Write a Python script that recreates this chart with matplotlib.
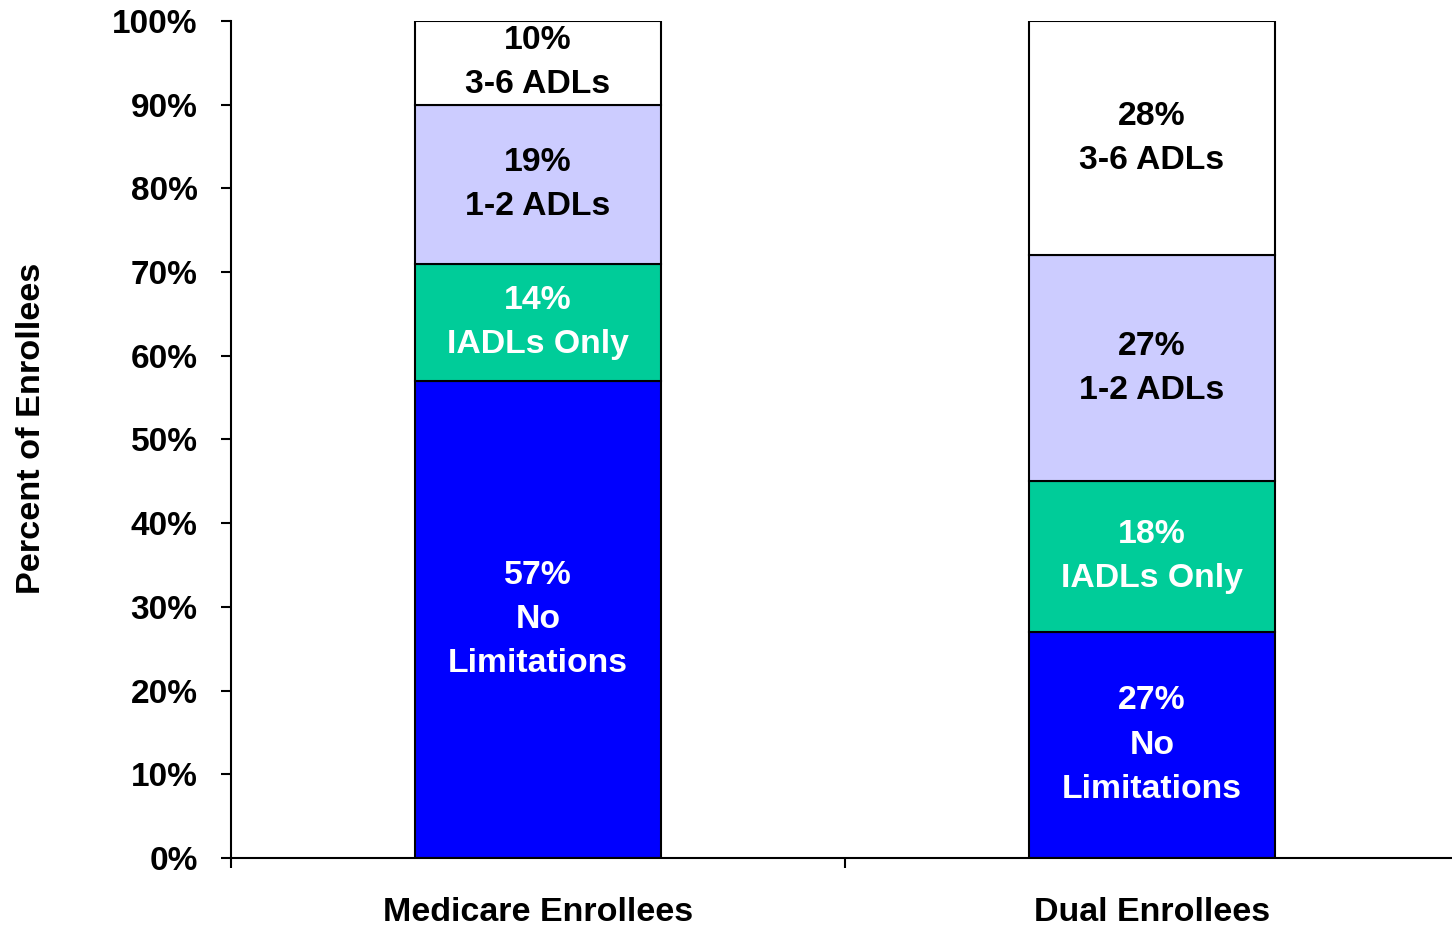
import matplotlib.pyplot as plt
from matplotlib.ticker import FixedLocator

plt.rcParams['font.family'] = ['Liberation Sans', 'DejaVu Sans']
plt.rcParams['font.weight'] = 'bold'

# data
groups = ['Medicare Enrollees', 'Dual Enrollees']
no_limit = [57, 27]
iadl_only = [14, 18]
adl_12 = [19, 27]
adl_36 = [10, 28]
series_names = ['No\nLimitations', 'IADLs Only', '1-2 ADLs', '3-6 ADLs']
series_vals = [no_limit, iadl_only, adl_12, adl_36]
series_colors = ['#0000FF', '#00CC99', '#CCCCFF', '#FFFFFF']
text_colors = ['white', 'white', 'black', 'black']
yticks = [0, 10, 20, 30, 40, 50, 60, 70, 80, 90, 100]

fig = plt.figure(figsize=(14.52, 9.25), dpi=100)
# axes runs a bit past the right edge of the figure, like the original
ax = fig.add_axes([231/1452, 1-858/925, 1228/1452, (858-21)/925])

x = range(len(groups))
bottom = [0] * len(groups)
for vals, name, col, tc in zip(series_vals, series_names, series_colors, text_colors):
    ax.bar(x, vals, width=0.40, bottom=bottom, color=col,
           edgecolor='black', linewidth=1.5, zorder=2)
    for i in x:
        ax.text(i, bottom[i] + vals[i] / 2, f'{vals[i]}%\n{name}',
                ha='center', va='center', color=tc, fontsize=24.3,
                fontweight='bold', linespacing=1.55)
    bottom = [b + v for b, v in zip(bottom, vals)]

ax.set_xlim(-0.5, len(groups) - 0.5)
ax.set_ylim(0, 100)
ax.set_yticks(yticks)
ax.set_yticklabels([f'{t}%' for t in yticks], fontsize=24, fontweight='bold')
ax.tick_params(axis='y', length=7, width=1.5, pad=17)

ax.set_xticks(list(x))
ax.set_xticklabels(groups, fontsize=24.5, fontweight='bold')
ax.xaxis.set_minor_locator(FixedLocator([-0.5, 0.5, 1.5]))
ax.tick_params(axis='x', which='major', length=0, pad=28)
ax.tick_params(axis='x', which='minor', length=7, width=1.5)

for s in ['top', 'right']:
    ax.spines[s].set_visible(False)
for s in ['left', 'bottom']:
    ax.spines[s].set_linewidth(1.5)

fig.text(32/1452, 1-428/925, 'Percent of Enrollees', rotation=90,
         ha='center', va='center', fontsize=24.7, fontweight='bold')

plt.savefig('out.png', dpi=100)
